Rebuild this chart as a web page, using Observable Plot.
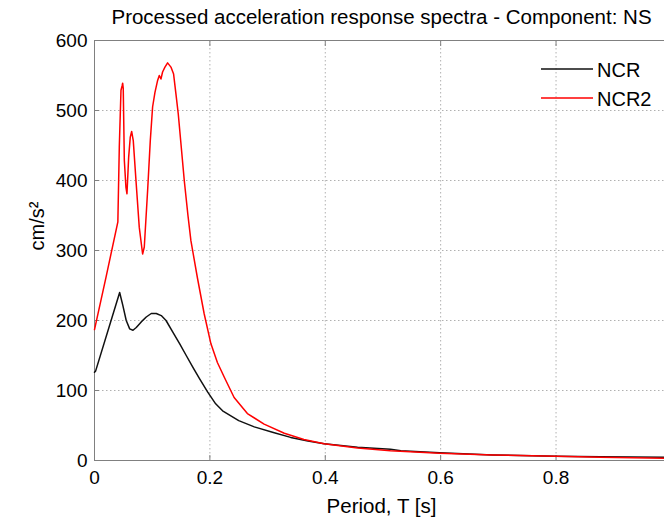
<!DOCTYPE html>
<html><head><meta charset="utf-8">
<script src="https://cdn.jsdelivr.net/npm/d3@7"></script>
<script src="https://cdn.jsdelivr.net/npm/@observablehq/plot@0.6"></script>
<style>
body{margin:0;background:#fff;}
#chart{position:relative;width:664px;height:520px;overflow:hidden;font-family:"Liberation Sans",Arial,sans-serif;}
#legend{position:absolute;left:0;top:0;pointer-events:none;}
</style></head><body><div id="chart"></div>
<script>
const title = "Processed acceleration response spectra - Component: NS";
const xLabel = "Period, T [s]";
const yLabel = "cm/s²";
const seriesNames = ["NCR", "NCR2"];
const seriesColors = ["#111111", "#ff0000"];
const xTicks = [0, 0.2, 0.4, 0.6, 0.8];
const yTicks = [0, 100, 200, 300, 400, 500, 600];

const periodNCR = [0, 0.002, 0.0436, 0.049, 0.055, 0.061, 0.0667, 0.0724, 0.081, 0.0897, 0.0984, 0.107, 0.1157, 0.124, 0.136, 0.1475, 0.159, 0.1706, 0.182, 0.196, 0.21, 0.222, 0.25, 0.277, 0.31, 0.34, 0.37, 0.398, 0.456, 0.513, 0.531, 0.598, 0.69, 0.8, 0.877, 0.988];
const accelNCR  = [126, 128, 240, 222, 200, 188, 186, 190, 198, 205, 210, 210, 207, 200, 183, 167, 150, 133, 117, 98, 81, 71, 57, 48, 40, 33, 28, 24, 19, 16, 14, 11, 8, 6, 5.5, 4.7];

const periodNCR2 = [0, 0.02, 0.0405, 0.043, 0.0459, 0.0478, 0.0488, 0.0498, 0.0517, 0.0545, 0.0563, 0.0592, 0.062, 0.0644, 0.0672, 0.0719, 0.0776, 0.0834, 0.0863, 0.0921, 0.0967, 0.1007, 0.1048, 0.1094, 0.1123, 0.1152, 0.118, 0.1221, 0.1267, 0.1325, 0.1371, 0.1411, 0.1452, 0.1556, 0.162, 0.1671, 0.1786, 0.19, 0.2017, 0.213, 0.225, 0.242, 0.265, 0.294, 0.329, 0.363, 0.398, 0.456, 0.513, 0.598, 0.69, 0.8, 0.877, 0.988];
const accelNCR2  = [187, 262, 341, 448, 529, 535, 539, 532, 429, 390, 381, 433, 462, 470, 457, 400, 333, 295, 305, 386, 457, 505, 526, 543, 550, 545, 555, 562, 568, 562, 552, 524, 495, 400, 350, 314, 260, 210, 167, 140, 119, 90, 67, 52, 39, 30, 24, 18, 14, 10.5, 8, 6, 4.8, 3.3];

const rows = [
  ...periodNCR.map((t, i) => ({series: seriesNames[0], T: t, v: accelNCR[i]})),
  ...periodNCR2.map((t, i) => ({series: seriesNames[1], T: t, v: accelNCR2[i]}))
];

const font = '"Liberation Sans", Arial, sans-serif';
const axisGray = "#808080";
const gridStyle = {stroke: "#b0b0b0", strokeOpacity: 1, strokeDasharray: "1.5,2.5"};

const plot = Plot.plot({
  width: 664, height: 520,
  marginLeft: 94, marginRight: 0, marginTop: 40, marginBottom: 60,
  style: {fontFamily: font, fontSize: "19px", color: "#000", background: "#fff"},
  x: {domain: [0, 0.988]},
  y: {domain: [0, 600]},
  color: {domain: seriesNames, range: seriesColors},
  marks: [
    Plot.gridX(xTicks.slice(1), gridStyle),
    Plot.gridY(yTicks.slice(1, -1), gridStyle),
    Plot.ruleX([0], {stroke: axisGray}),
    Plot.ruleY([0, 600], {stroke: axisGray}),
    Plot.axisX(xTicks, {anchor: "bottom", tickSize: -5, tickPadding: 15, tickFormat: d => String(d), label: null, stroke: axisGray}),
    Plot.axisX(xTicks.slice(1), {anchor: "top", tickSize: -5, tickFormat: () => "", label: null, stroke: axisGray}),
    Plot.axisY(yTicks, {anchor: "left", tickSize: -5, tickPadding: 12, label: null, stroke: axisGray}),
    Plot.line(rows, {x: "T", y: "v", z: "series", stroke: "series", strokeWidth: 1.5}),
    Plot.text([title], {text: d => d, frameAnchor: "top", dx: 2, dy: -23, fontSize: 20.5, lineAnchor: "middle"}),
    Plot.text([xLabel], {text: d => d, frameAnchor: "bottom", dx: 2, dy: 46, fontSize: 20.5, lineAnchor: "middle"}),
    Plot.text([yLabel], {text: d => d, frameAnchor: "left", dx: -57, rotate: -90, fontSize: 20, lineAnchor: "middle"})
  ]
});

const chart = document.getElementById("chart");
chart.appendChild(plot);

// legend overlay
const leg = d3.select(chart).append("svg").attr("id", "legend").attr("width", 664).attr("height", 520);
const g = leg.selectAll("g").data(seriesNames).join("g")
  .attr("transform", (d, i) => `translate(541,${69 + i * 29})`);
g.append("line").attr("x1", 0).attr("x2", 52).attr("y1", 0).attr("y2", 0)
  .attr("stroke", (d, i) => seriesColors[i]).attr("stroke-width", 1.5);
g.append("text").attr("x", 56).attr("y", 3).attr("dominant-baseline", "middle")
  .attr("font-family", font).attr("font-size", 20).attr("fill", "#000").text(d => d);
</script></body></html>
